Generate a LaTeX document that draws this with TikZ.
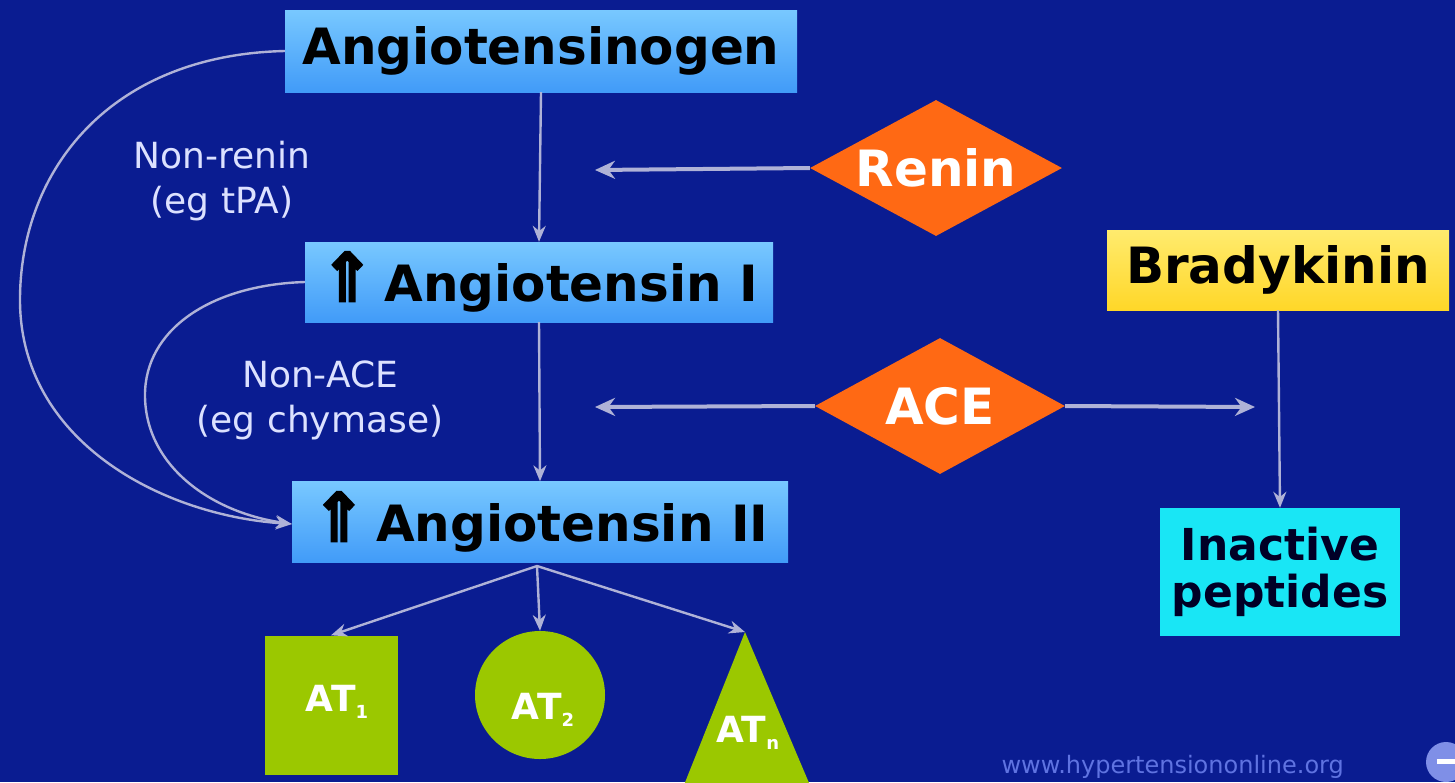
\documentclass[tikz,border=0pt]{standalone}
\usepackage{fontspec}
\setmainfont{DejaVu Sans}
\newfontfamily\arrfont[FakeBold=3]{DejaVu Sans}
\usetikzlibrary{shapes.geometric,arrows.meta}
\definecolor{bg}{RGB}{10,28,145}
\definecolor{boxtop}{RGB}{120,200,255}
\definecolor{boxbot}{RGB}{65,155,248}
\definecolor{orng}{RGB}{255,105,20}
\definecolor{ylw}{RGB}{255,215,40}
\definecolor{ylwtop}{RGB}{255,235,110}
\definecolor{cyn}{RGB}{25,230,245}
\definecolor{grn}{RGB}{155,200,0}
\definecolor{lbl}{RGB}{220,225,255}
\definecolor{ln}{RGB}{175,178,215}
\definecolor{wm}{RGB}{95,115,225}
\tikzset{
  bluebox/.style={rectangle, top color=boxtop, bottom color=boxbot, draw=none, inner sep=0pt,
    font=\fontsize{50}{55}\selectfont\bfseries, text=black},
  enzyme/.style={diamond, fill=orng, draw=none, inner sep=0pt, aspect=1.85,
    font=\fontsize{50}{55}\selectfont\bfseries, text=white},
  sidelbl/.style={align=center, text=lbl, font=\fontsize{36}{45}\selectfont},
  thinarr/.style={draw=ln, line width=2.4pt, -{Stealth[length=16pt,width=13pt]}},
  thickarr/.style={draw=ln, line width=4pt, -{Stealth[length=20pt,width=18pt]}},
  curvearr/.style={draw=ln, line width=2.4pt, -{Stealth[length=16pt,width=13pt]}},
  atlbl/.style={text=white, font=\fontsize{36}{40}\selectfont\bfseries},
}
\newcommand{\subsc}[1]{\raisebox{-0.35ex}{\fontsize{18}{18}\selectfont #1}}
\newcommand{\uparr}{\scalebox{1.3}[1.35]{\arrfont\symbol{"21D1}}}
\begin{document}
\begin{tikzpicture}[x=1pt,y=-1pt]
\fill[bg] (0,0) rectangle (1455,782);
\useasboundingbox (0,0) rectangle (1455,782);
\clip (0,0) rectangle (1455,782);

% main boxes
\node[bluebox, minimum width=512pt, minimum height=82pt] (ago) at (541,51) {Angiotensinogen};
\node[bluebox, minimum width=468pt, minimum height=80pt] (a1) at (539,282) {\uparr\hspace{0.2em}Angiotensin I};
\node[bluebox, minimum width=496pt, minimum height=81pt] (a2) at (540,522) {\uparr\hspace{0.2em}Angiotensin II};

% enzymes
\node[enzyme, minimum width=252pt, minimum height=136pt] (renin) at (936,168) {Renin};
\node[enzyme, minimum width=250pt, minimum height=136pt] (ace) at (940,406) {ACE};

% bradykinin side
\node[rectangle, top color=ylwtop, bottom color=ylw, inner sep=0pt, minimum width=342pt, minimum height=80pt,
  font=\fontsize{50}{55}\selectfont\bfseries, text=black] (brady) at (1278,270) {Bradykinin};
\node[rectangle, fill=cyn, inner sep=0pt, minimum width=240pt, minimum height=128pt, align=center,
  font=\fontsize{44}{47}\selectfont\bfseries, text=black!85!blue] (inact) at (1280,572) {Inactive\\peptides};

% side labels
\node[sidelbl] (nonrenin) at (222,181) {Non-renin\\(eg tPA)};
\node[sidelbl] (nonace) at (320,400) {Non-ACE\\(eg chymase)};

% receptors
\node[rectangle, fill=grn, minimum width=133pt, minimum height=139pt, inner sep=0pt] (at1) at (331,705) {};
\node[atlbl] (at1l) at (337,702) {AT\subsc{1}};
\node[ellipse, fill=grn, minimum width=130pt, minimum height=128pt, inner sep=0pt] (at2r) at (540,695) {};
\node[atlbl] (at2l) at (543,710) {AT\subsc{2}};
\coordinate (atnapex) at (745,632);
\fill[grn] (atnapex) -- (812,790) -- (682,790) -- cycle;
\node[atlbl] (atnl) at (748,733) {AT\subsc{n}};

% connectors
\coordinate (rentip) at (595,170);
\coordinate (acetipL) at (595,407);
\coordinate (acetipR) at (1255,407);
\draw[thinarr] (ago.south) -- (a1.north);
\draw[thinarr] (a1.south) -- (a2.north);
\draw[thickarr] (renin.west) -- (rentip);
\draw[thickarr] (ace.west) -- (acetipL);
\draw[thickarr] (ace.east) -- (acetipR);
\draw[thinarr] (brady.south) -- (inact.north);

\coordinate (a2b) at (537,566);
\draw[thinarr] (a2b) -- (at1.north);
\draw[thinarr] (a2b) -- (at2r.north);
\draw[thinarr] (a2b) -- (atnapex);

\draw[curvearr] (ago.west) .. controls (110,55) and (20,170) .. (20,300)
   .. controls (20,440) and (160,515) .. ([yshift=-2pt]a2.west);
\draw[curvearr] (a1.west) .. controls (210,285) and (145,330) .. (145,395)
   .. controls (145,465) and (210,512) .. ([yshift=-2pt]a2.west);

% watermark
\node[anchor=base west, text=wm, font=\fontsize{24}{24}\selectfont] (wmark) at (998,773) {www.hypertensiononline.org};
\node[circle, fill=wm!80!white, minimum size=40pt, inner sep=0pt] (logo) at (1446,762) {};
\fill[white] (1437,759) rectangle (1455,764);
\end{tikzpicture}
\end{document}
